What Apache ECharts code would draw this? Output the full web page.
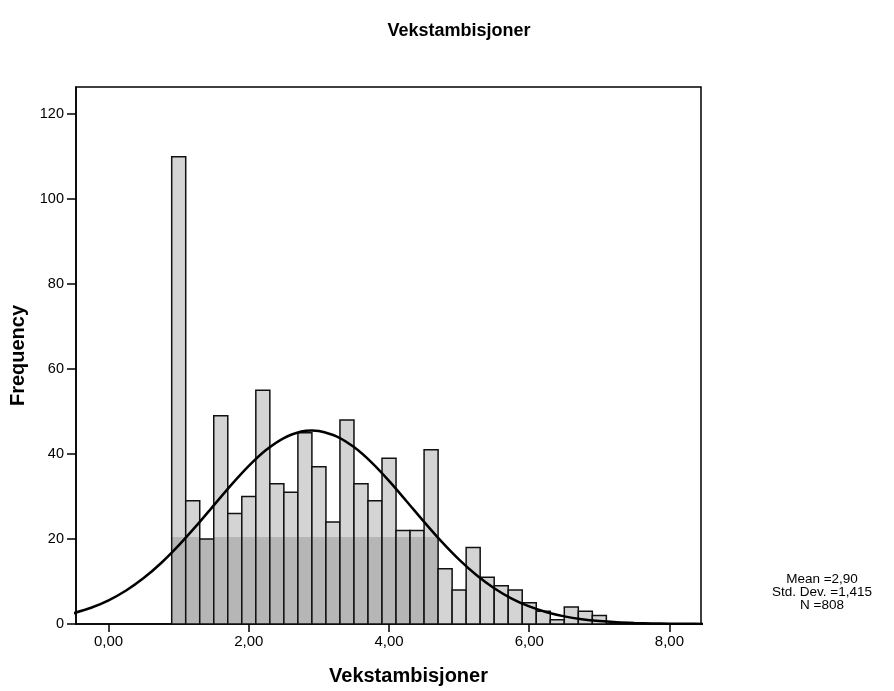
<!DOCTYPE html>
<html>
<head>
<meta charset="utf-8">
<script src="https://cdn.jsdelivr.net/npm/echarts@6/dist/echarts.min.js"></script>
<style>
html,body{margin:0;padding:0;background:#fff;}
#chart{width:894px;height:691px;}
</style>
</head>
<body>
<div id="chart"></div>
<script>
// ---- data ----
const titleText = 'Vekstambisjoner';
const xAxisTitle = 'Vekstambisjoner';
const yAxisTitle = 'Frequency';
const binWidth = 0.2;
const binCenters = [1.0,1.2,1.4,1.6,1.8,2.0,2.2,2.4,2.6,2.8,3.0,3.2,3.4,3.6,3.8,4.0,4.2,4.4,4.6,4.8,5.0,5.2,5.4,5.6,5.8,6.0,6.2,6.4,6.6,6.8,7.0];
const frequencies = [110,29,20,49,26,30,55,33,31,45,37,24,48,33,29,39,22,22,41,13,8,18,11,9,8,5,3,1,4,3,2];
// normal curve points
const curveX = [-0.5,-0.25,0,0.25,0.5,0.75,1.0,1.25,1.5,1.75,2.0,2.25,2.5,2.75,2.9,3.0,3.25,3.5,3.75,4.0,4.25,4.5,4.75,5.0,5.25,5.5,5.75,6.0,6.25,6.5,6.75,7.0,7.25,7.5,7.75,8.0,8.25,8.5];
const curveY = [2.54,3.82,5.58,7.89,10.81,14.36,18.50,23.08,27.93,32.75,37.22,41.00,43.77,45.30,45.56,45.45,44.19,41.64,38.04,33.68,28.90,24.04,19.38,15.15,11.47,8.42,5.99,4.13,2.76,1.79,1.12,0.68,0.40,0.23,0.13,0.07,0.04,0.02];
const xTickValues = [0,2,4,6,8];
const yTickValues = [0,20,40,60,80,100,120];
const statLines = ['Mean =2,90', 'Std. Dev. =1,415', 'N =808'];

// ---- chart ----
const FONT = '"Liberation Sans", Arial, Helvetica, sans-serif';
const chart = echarts.init(document.getElementById('chart'), null, {renderer: 'canvas'});

const SHADE_LEVEL = 20.5, SHADE_END = 4.7;

function renderBar(params, api) {
  const c = api.value(0), v = api.value(1);
  const h = binWidth / 2;
  const tl = api.coord([c - h, v]);
  const br = api.coord([c + h, 0]);
  const children = [{
    type: 'rect',
    shape: {x: tl[0], y: tl[1], width: br[0] - tl[0], height: br[1] - tl[1]},
    style: {fill: '#d4d4d4', stroke: null}
  }];
  if (c < SHADE_END) {
    const st = api.coord([c - h, Math.min(v, SHADE_LEVEL)]);
    children.push({
      type: 'rect',
      shape: {x: st[0], y: st[1], width: br[0] - st[0], height: br[1] - st[1]},
      style: {fill: '#b6b6b6', stroke: null}
    });
  }
  children.push({
    type: 'rect',
    shape: {x: tl[0], y: tl[1], width: br[0] - tl[0], height: br[1] - tl[1]},
    style: {fill: 'none', stroke: '#111', lineWidth: 1.5}
  });
  return {type: 'group', children: children};
}

const option = {
  backgroundColor: '#fff',
  animation: false,
  title: {
    text: titleText,
    left: 454, top: 17, textAlign: 'center',
    textStyle: {fontFamily: FONT, fontWeight: 'bold', fontSize: 18, color: '#000'}
  },
  grid: {
    left: 76, right: 193, top: 87, bottom: 63,
    show: true, borderColor: '#000', borderWidth: 1.5, backgroundColor: 'transparent'
  },
  xAxis: {
    type: 'value', min: -0.465, max: 8.45,
    splitLine: {show: false},
    axisLine: {show: true, onZero: false, lineStyle: {color: '#000', width: 1.5}},
    axisTick: {show: true, customValues: xTickValues, length: 8, lineStyle: {color: '#000', width: 1.5}},
    axisLabel: {
      customValues: xTickValues, margin: 10,
      fontFamily: FONT, fontSize: 15, color: '#000',
      formatter: v => v.toFixed(2).replace('.', ',')
    },
    name: xAxisTitle, nameLocation: 'middle', nameGap: 42,
    nameTextStyle: {fontFamily: FONT, fontWeight: 'bold', fontSize: 20, color: '#000', padding: [0, 0, 0, 40]}
  },
  yAxis: {
    type: 'value', min: 0, max: 126.4,
    splitLine: {show: false},
    axisLine: {show: true, onZero: false, lineStyle: {color: '#000', width: 1.5}},
    axisTick: {show: true, customValues: yTickValues, length: 9, lineStyle: {color: '#000', width: 1.5}},
    axisLabel: {customValues: yTickValues, margin: 12, fontFamily: FONT, fontSize: 14.5, color: '#000'},
    name: yAxisTitle, nameLocation: 'middle', nameGap: 47,
    nameTextStyle: {fontFamily: FONT, fontWeight: 'bold', fontSize: 20, color: '#000'}
  },
  series: [
    {
      type: 'custom',
      renderItem: renderBar,
      data: binCenters.map((c, i) => [c, frequencies[i]]),
      encode: {x: 0, y: 1},
      clip: true,
      z: 2
    },
    {
      type: 'line',
      data: curveX.map((x, i) => [x, curveY[i]]),
      smooth: 0.3,
      showSymbol: false,
      clip: true,
      lineStyle: {color: '#000', width: 2.5},
      z: 3
    }
  ],
  graphic: statLines.map((t, i) => ({
    type: 'text',
    x: 822, y: 579 + i * 13,
    style: {text: t, fontFamily: FONT, fontSize: 13.5, fill: '#000', align: 'center', verticalAlign: 'middle'}
  }))
};
chart.setOption(option);
</script>
</body>
</html>
